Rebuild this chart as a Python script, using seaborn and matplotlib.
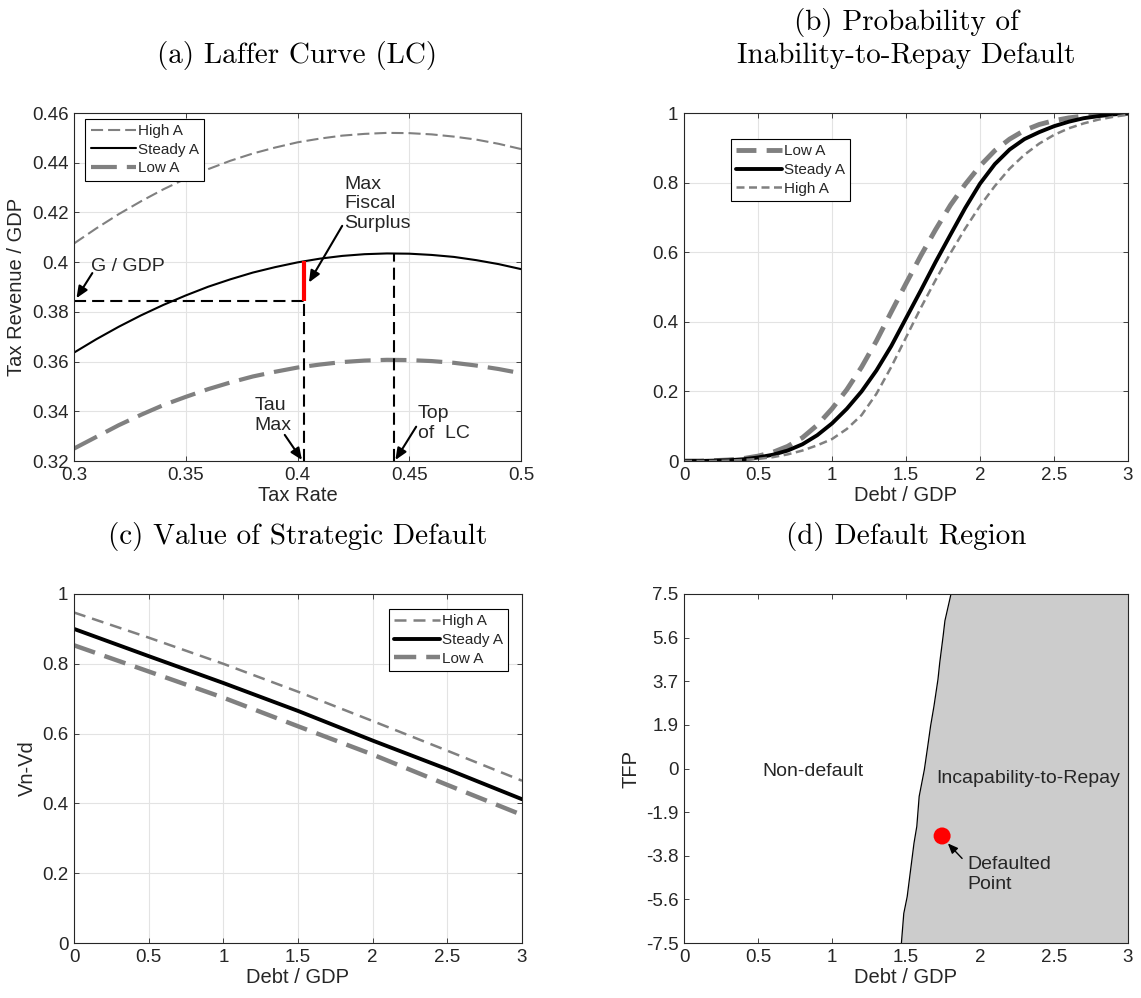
import numpy as np
import pandas as pd
import matplotlib
matplotlib.use("Agg")
import matplotlib.pyplot as plt
import seaborn as sns
from matplotlib.ticker import FuncFormatter

sns.set_style("ticks")
plt.rcParams["font.family"] = ["Liberation Sans", "DejaVu Sans"]

# ---------------- data ----------------
# (a) Laffer curve: tax revenue / GDP against tax rate
tax_rate = [0.30, 0.31, 0.32, 0.33, 0.34, 0.35, 0.36, 0.37, 0.38, 0.39, 0.40,
            0.41, 0.42, 0.43, 0.44, 0.45, 0.46, 0.47, 0.48, 0.49, 0.50]
rev_high = [0.4075, 0.4136, 0.4193, 0.4245, 0.4293, 0.4336, 0.4374, 0.4408, 0.4437, 0.4461,
            0.4482, 0.4497, 0.4509, 0.4516, 0.4520, 0.4519, 0.4514, 0.4505, 0.4493, 0.4476,
            0.4455]
rev_steady = [0.3636, 0.3690, 0.3740, 0.3786, 0.3828, 0.3866, 0.3901, 0.3931, 0.3958, 0.3980,
              0.3999, 0.4014, 0.4025, 0.4032, 0.4035, 0.4034, 0.4029, 0.4021, 0.4008, 0.3992,
              0.3972]
rev_low = [0.3250, 0.3297, 0.3344, 0.3386, 0.3425, 0.3458, 0.3489, 0.3516, 0.3540, 0.3559,
           0.3576, 0.3588, 0.3598, 0.3604, 0.3607, 0.3606, 0.3602, 0.3595, 0.3584, 0.3570,
           0.3553]
g_gdp = 0.3843          # government spending / GDP
tau_max = 0.4028        # tax rate at which the fiscal surplus is maximal
rev_at_tau_max = 0.4003
tau_top = 0.4430        # top of the Laffer curve
rev_top = 0.4035

# (b) probability of inability-to-repay default against debt / GDP
debt_b = [0.0, 0.1, 0.2, 0.3, 0.4, 0.5, 0.6, 0.7, 0.8, 0.9, 1.0, 1.1, 1.2, 1.3, 1.4, 1.5,
          1.6, 1.7, 1.8, 1.9, 2.0, 2.1, 2.2, 2.3, 2.4, 2.5, 2.6, 2.7, 2.8, 2.9, 3.0]
prob_low = [0.000, 0.000, 0.001, 0.003, 0.007, 0.014, 0.025, 0.042, 0.067, 0.103, 0.150,
            0.205, 0.270, 0.345, 0.428, 0.510, 0.590, 0.665, 0.735, 0.795, 0.848, 0.892,
            0.925, 0.950, 0.967, 0.978, 0.986, 0.991, 0.995, 0.997, 0.999]
prob_steady = [0.000, 0.000, 0.001, 0.002, 0.005, 0.010, 0.018, 0.030, 0.048, 0.074, 0.108,
               0.150, 0.200, 0.260, 0.330, 0.410, 0.490, 0.572, 0.650, 0.727, 0.797, 0.853,
               0.895, 0.925, 0.945, 0.962, 0.975, 0.985, 0.991, 0.996, 0.999]
prob_high = [0.000, 0.000, 0.000, 0.001, 0.003, 0.006, 0.011, 0.019, 0.030, 0.045, 0.063,
             0.092, 0.132, 0.193, 0.270, 0.355, 0.440, 0.520, 0.597, 0.668, 0.733, 0.790,
             0.840, 0.880, 0.912, 0.937, 0.956, 0.970, 0.981, 0.989, 0.995]

# (c) value of strategic default (Vn - Vd) against debt / GDP
debt_c = [0.0, 0.5, 1.0, 1.5, 2.0, 2.5, 3.0]
vdiff_high = [0.947, 0.875, 0.800, 0.720, 0.636, 0.551, 0.465]
vdiff_steady = [0.900, 0.822, 0.745, 0.665, 0.580, 0.498, 0.412]
vdiff_low = [0.853, 0.778, 0.703, 0.621, 0.540, 0.453, 0.367]

# (d) default region boundary in (debt / GDP, TFP) space
boundary_debt = [1.469, 1.485, 1.508, 1.531, 1.554, 1.573, 1.589, 1.624, 1.647, 1.666,
                 1.689, 1.716, 1.728, 1.751, 1.763, 1.804]
boundary_tfp = [-7.50, -6.23, -5.51, -4.36, -3.21, -2.49, -1.20, -0.05, 0.96, 1.82,
                2.68, 3.83, 4.55, 5.70, 6.35, 7.50]
defaulted_debt = [1.744]
defaulted_tfp = [-2.90]
tfp_ticks = [-7.5, -5.625, -3.75, -1.875, 0.0, 1.875, 3.75, 5.625, 7.5]
tfp_labels = ["-7.5", "-5.6", "-3.8", "-1.9", "0", "1.9", "3.7", "5.6", "7.5"]

# ---------------- styling ----------------
GRAY = "#808080"
TXT = "#262626"
W, H = 1141, 998
TICK_FS = 13.5
LABEL_FS = 14.5
LEG_FS = 11
TITLE_FS = 21
ANN_FS = 14


def px_axes(left, top, right, bottom):
    return [left / W, 1 - bottom / H, (right - left) / W, (bottom - top) / H]


def style_axes(ax, grid=True):
    for s in ax.spines.values():
        s.set_color(TXT)
        s.set_linewidth(0.8)
        s.set_visible(True)
    ax.tick_params(direction="in", length=3.5, width=0.6, colors=TXT,
                   labelsize=TICK_FS, top=True, right=True, pad=4)
    if grid:
        ax.grid(True, color="#e3e3e3", linewidth=0.8)
        ax.set_axisbelow(True)
    else:
        ax.grid(False)


def g_fmt(v, pos):
    return "%g" % round(v, 6)


def legend(ax, **kw):
    leg = ax.legend(fontsize=LEG_FS, frameon=True, fancybox=False, framealpha=1,
                    edgecolor="black", borderpad=0.35, labelspacing=0.3,
                    handlelength=3.0, handletextpad=0.1, borderaxespad=0, **kw)
    leg.get_frame().set_linewidth(0.8)
    return leg


def line(ax, x, y, label, **kw):
    df = pd.DataFrame({"x": x, "y": y})
    sns.lineplot(data=df, x="x", y="y", ax=ax, label=label, estimator=None,
                 sort=False, **kw)


fig = plt.figure(figsize=(W / 100, H / 100), dpi=100)

ax_a = fig.add_axes(px_axes(74, 113, 521, 461))
ax_b = fig.add_axes(px_axes(684, 113, 1128, 461))
ax_c = fig.add_axes(px_axes(74, 594, 522, 943))
ax_d = fig.add_axes(px_axes(684, 594, 1128, 943))

# ---------------- (a) Laffer curve ----------------
line(ax_a, tax_rate, rev_high, "High A", color=GRAY, lw=1.5, ls=(0, (5.8, 2.4)))
line(ax_a, tax_rate, rev_steady, "Steady A", color="black", lw=1.5)
line(ax_a, tax_rate, rev_low, "Low A", color=GRAY, lw=3.0, ls=(0, (6.2, 2.4)))
dash_k = dict(color="black", lw=1.5, ls=(0, (5.8, 2.9)))
ax_a.plot([0.30, tau_max], [g_gdp, g_gdp], **dash_k)
ax_a.plot([tau_max, tau_max], [0.32, rev_at_tau_max], **dash_k)
ax_a.plot([tau_top, tau_top], [0.32, rev_top], **dash_k)
ax_a.plot([tau_max, tau_max], [g_gdp, rev_at_tau_max], color="red", lw=3,
          solid_capstyle="butt")

arrow_kw = dict(arrowstyle="-|>,head_length=0.7,head_width=0.3", color="black", lw=1.5,
                shrinkA=0, shrinkB=0)
ax_a.annotate("", xy=(0.3011, 0.3855), xytext=(0.3082, 0.3956), arrowprops=arrow_kw)
ax_a.text(0.3077, 0.3983, "G / GDP", fontsize=ANN_FS, va="center", ha="left")
ax_a.annotate("", xy=(0.4051, 0.3918), xytext=(0.4200, 0.4146), arrowprops=arrow_kw)
ax_a.text(0.4210, 0.4235, "Max\nFiscal\nSurplus", fontsize=ANN_FS, va="center", ha="left",
          linespacing=1.2)
ax_a.annotate("", xy=(0.4020, 0.3204), xytext=(0.3943, 0.3305), arrowprops=arrow_kw)
ax_a.text(0.3808, 0.3384, "Tau\nMax", fontsize=ANN_FS, va="center", ha="left",
          linespacing=1.2)
ax_a.annotate("", xy=(0.4438, 0.3204), xytext=(0.4531, 0.3338), arrowprops=arrow_kw)
ax_a.text(0.4538, 0.3350, "Top\nof  LC", fontsize=ANN_FS, va="center", ha="left",
          linespacing=1.2)

ax_a.set_xlim(0.3, 0.5)
ax_a.set_ylim(0.32, 0.46)
ax_a.set_xticks([0.30, 0.35, 0.40, 0.45, 0.50])
ax_a.set_yticks(np.arange(0.32, 0.4601, 0.02))
ax_a.xaxis.set_major_formatter(FuncFormatter(g_fmt))
ax_a.yaxis.set_major_formatter(FuncFormatter(g_fmt))
ax_a.set_xlabel("Tax Rate", fontsize=LABEL_FS, labelpad=2, color=TXT)
ax_a.set_ylabel("Tax Revenue / GDP", fontsize=LABEL_FS, labelpad=4, color=TXT)
style_axes(ax_a)
legend(ax_a, loc="upper left", bbox_to_anchor=(0.025, 0.983))

# ---------------- (b) probability of default ----------------
line(ax_b, debt_b, prob_low, "Low A", color=GRAY, lw=3.5, ls=(0, (4.1, 2.1)))
line(ax_b, debt_b, prob_steady, "Steady A", color="black", lw=2.8)
line(ax_b, debt_b, prob_high, "High A", color=GRAY, lw=1.8, ls=(0, (3.2, 1.8)))
ax_b.set_xlim(0, 3)
ax_b.set_ylim(0, 1)
ax_b.set_xticks(np.arange(0, 3.01, 0.5))
ax_b.set_yticks(np.arange(0, 1.01, 0.2))
ax_b.xaxis.set_major_formatter(FuncFormatter(g_fmt))
ax_b.yaxis.set_major_formatter(FuncFormatter(g_fmt))
ax_b.set_xlabel("Debt / GDP", fontsize=LABEL_FS, labelpad=2, color=TXT)
ax_b.set_ylabel("")
style_axes(ax_b)
legend(ax_b, loc="upper left", bbox_to_anchor=(0.106, 0.925))

# ---------------- (c) value of strategic default ----------------
line(ax_c, debt_c, vdiff_high, "High A", color=GRAY, lw=1.8, ls=(0, (4.8, 2.8)))
line(ax_c, debt_c, vdiff_steady, "Steady A", color="black", lw=2.8)
line(ax_c, debt_c, vdiff_low, "Low A", color=GRAY, lw=3.2, ls=(0, (5.0, 2.25)))
ax_c.set_xlim(0, 3)
ax_c.set_ylim(0, 1)
ax_c.set_xticks(np.arange(0, 3.01, 0.5))
ax_c.set_yticks(np.arange(0, 1.01, 0.2))
ax_c.xaxis.set_major_formatter(FuncFormatter(g_fmt))
ax_c.yaxis.set_major_formatter(FuncFormatter(g_fmt))
ax_c.set_xlabel("Debt / GDP", fontsize=LABEL_FS, labelpad=2, color=TXT)
ax_c.set_ylabel("Vn-Vd", fontsize=LABEL_FS, labelpad=4, color=TXT)
style_axes(ax_c)
legend(ax_c, loc="upper right", bbox_to_anchor=(0.969, 0.957))

# ---------------- (d) default region ----------------
ax_d.fill_betweenx(boundary_tfp, boundary_debt, 3.0, color="#cccccc", lw=0)
ax_d.plot(boundary_debt, boundary_tfp, color="black", lw=0.9)
sns.scatterplot(x=defaulted_debt, y=defaulted_tfp, ax=ax_d, color="red", s=150,
                edgecolor="none", zorder=5)
ax_d.annotate("", xy=(1.783, -3.22), xytext=(1.879, -3.865),
              arrowprops=dict(arrowstyle="-|>,head_length=0.6,head_width=0.25",
                              color="black", lw=1.0, shrinkA=0, shrinkB=0))
ax_d.text(1.917, -4.565, "Defaulted\nPoint", fontsize=ANN_FS, va="center", ha="left",
          linespacing=1.2)
ax_d.text(0.870, -0.115, "Non-default", fontsize=ANN_FS, va="center", ha="center")
ax_d.text(2.327, -0.447, "Incapability-to-Repay", fontsize=ANN_FS, va="center", ha="center")
ax_d.set_xlim(0, 3)
ax_d.set_ylim(-7.5, 7.5)
ax_d.set_xticks(np.arange(0, 3.01, 0.5))
ax_d.xaxis.set_major_formatter(FuncFormatter(g_fmt))
ax_d.set_yticks(tfp_ticks)
ax_d.set_yticklabels(tfp_labels)
ax_d.set_xlabel("Debt / GDP", fontsize=LABEL_FS, labelpad=2, color=TXT)
ax_d.set_ylabel("TFP", fontsize=LABEL_FS, labelpad=4, color=TXT)
style_axes(ax_d, grid=False)

# ---------------- panel titles ----------------
title_kw = dict(fontsize=TITLE_FS, family="cmr10", ha="center", va="baseline", color="black")
fig.text((74 + 521) / 2 / W, 1 - 63 / H, "(a) Laffer Curve (LC)", **title_kw)
fig.text((684 + 1128) / 2 / W, 1 - 30 / H, "(b) Probability of", **title_kw)
fig.text((684 + 1128) / 2 / W, 1 - 63 / H, "Inability-to-Repay Default", **title_kw)
fig.text((74 + 522) / 2 / W, 1 - 544 / H, "(c) Value of Strategic Default", **title_kw)
fig.text((684 + 1128) / 2 / W, 1 - 544 / H, "(d) Default Region", **title_kw)

fig.savefig("out.png", dpi=100, facecolor="white")
